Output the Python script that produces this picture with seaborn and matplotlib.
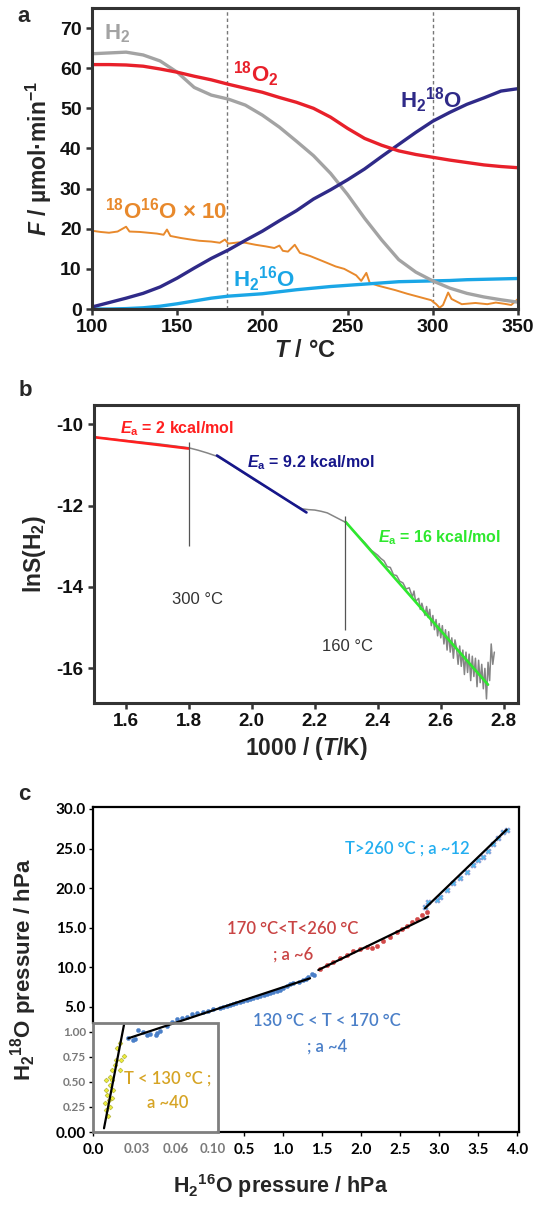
import numpy as np
import matplotlib
matplotlib.use("Agg")
import matplotlib.pyplot as plt
from matplotlib.patches import Rectangle
import seaborn as sns

# ---------------- panel a : flows vs temperature ----------------
t_grid = [100, 110, 120, 130, 140, 150, 160, 170, 180, 190, 200, 210, 220,
          230, 240, 250, 260, 270, 280, 290, 300, 310, 320, 330, 340, 350]
f_h2 = [63.6, 63.8, 64.0, 63.3, 61.8, 59.0, 55.2, 53.3, 52.3, 50.8, 48.3, 45.3, 41.8,
        38.2, 33.8, 28.5, 22.6, 17.2, 12.3, 9.2, 7.0, 5.2, 3.9, 3.0, 2.3, 1.7]
f_o2 = [60.9, 60.9, 60.8, 60.5, 59.8, 59.0, 58.0, 57.1, 56.0, 55.0, 54.0, 52.7, 51.5,
        50.0, 47.8, 45.0, 42.5, 40.8, 39.4, 38.5, 37.8, 37.1, 36.5, 35.9, 35.5, 35.2]
f_h2o18 = [0.5, 1.6, 2.7, 3.9, 5.5, 7.7, 10.2, 12.6, 14.7, 17.1, 19.4, 22.0, 24.5,
           27.4, 29.7, 32.2, 34.9, 38.0, 41.0, 44.0, 46.8, 49.0, 51.0, 52.6, 54.3, 54.9]
f_h2o16 = [0.0, 0.0, 0.1, 0.3, 0.7, 1.3, 2.0, 2.7, 3.2, 3.5, 3.8, 4.3, 4.8,
           5.2, 5.6, 5.9, 6.2, 6.5, 6.8, 6.9, 7.0, 7.1, 7.3, 7.4, 7.5, 7.6]
t_mixed = [100, 105, 110, 115, 120, 122, 128, 133, 138, 142, 144, 146, 152, 158, 163,
           170, 175, 178, 180, 186, 190, 196, 202, 207, 210, 212, 215, 219, 222, 228,
           235, 243, 248, 255, 258, 261, 263, 268, 278, 285, 292, 299, 302, 304, 306,
           309, 311, 317, 325, 332, 337, 342, 346, 350]
f_mixed = [19.5, 19.2, 19.0, 19.3, 20.5, 19.3, 19.2, 19.0, 18.8, 18.5, 19.8, 18.2, 17.7,
           17.3, 17.0, 16.8, 16.5, 17.3, 16.3, 16.6, 16.5, 16.0, 15.6, 15.2, 15.8, 14.5,
           14.3, 16.0, 14.0, 13.2, 12.0, 10.6, 10.0, 8.4, 7.0, 9.0, 6.5, 5.8, 4.7, 3.8,
           3.0, 2.2, 1.2, 0.3, 1.0, 4.1, 2.5, 1.2, 1.5, 1.2, 1.6, 1.3, 1.0, 2.5]
t_marks = [179, 300]

# ---------------- panel b : Arrhenius plot ----------------
inv_t = [1.50, 1.55, 1.60, 1.65, 1.70, 1.75, 1.80, 1.83, 1.86, 1.89, 1.92, 1.95, 1.98,
         2.01, 2.04, 2.07, 2.10, 2.13, 2.16, 2.18, 2.20, 2.22, 2.24, 2.26, 2.28, 2.30,
         2.32, 2.34, 2.36, 2.38, 2.40, 2.41, 2.42, 2.43, 2.44, 2.45, 2.46, 2.47, 2.48,
         2.49, 2.50, 2.51, 2.515, 2.52, 2.53, 2.535, 2.54, 2.55, 2.555, 2.56, 2.565,
         2.57, 2.575, 2.58, 2.585, 2.59, 2.595, 2.60, 2.605, 2.61, 2.615, 2.62, 2.625,
         2.63, 2.635, 2.64, 2.645, 2.65, 2.655, 2.66, 2.665, 2.67, 2.675, 2.68, 2.685,
         2.69, 2.695, 2.70, 2.705, 2.71, 2.715, 2.72, 2.725, 2.73, 2.735, 2.74, 2.745,
         2.75, 2.755, 2.76, 2.765, 2.77]
ln_s = [-10.32, -10.36, -10.40, -10.44, -10.48, -10.53, -10.58, -10.64, -10.71, -10.79,
        -10.93, -11.08, -11.23, -11.38, -11.52, -11.66, -11.81, -11.95, -12.08, -12.10,
        -12.11, -12.14, -12.18, -12.26, -12.34, -12.42, -12.60, -12.76, -12.92, -13.10,
        -13.22, -13.30, -13.36, -13.50, -13.52, -13.70, -13.72, -13.86, -13.90, -14.05,
        -14.02, -14.25, -14.10, -14.35, -14.28, -14.55, -14.40, -14.70, -14.48, -14.75,
        -14.55, -14.95, -14.70, -15.05, -14.80, -15.20, -14.90, -15.25, -14.95, -15.40,
        -15.05, -15.55, -15.10, -15.60, -15.25, -15.75, -15.30, -15.50, -15.90, -15.45,
        -15.95, -15.55, -16.15, -15.60, -16.10, -15.65, -16.30, -15.70, -16.20, -15.75,
        -16.45, -15.80, -16.35, -15.90, -16.50, -16.00, -16.75, -15.85, -16.30, -15.40,
        -15.90, -15.60]
fit2_x, fit2_y = [1.50, 1.80], [-10.32, -10.60]
fit9_x, fit9_y = [1.89, 2.174], [-10.77, -12.17]
fit16_x, fit16_y = [2.298, 2.75], [-12.40, -16.40]
mark_x = [1.80, 2.295]
mark_lo = [-13.0, -15.05]
mark_hi = [-10.43, -12.25]

# ---------------- panel c : H2(18)O vs H2(16)O pressure ----------------
p16_cold = [0.0182, 0.0166, 0.0209, 0.0193, 0.0159, 0.0148, 0.0130, 0.0182, 0.0114, 0.0091,
            0.0130, 0.0114, 0.0091, 0.0136, 0.0098, 0.0130, 0.0107, 0.0080, 0.0114, 0.0091,
            0.0102]
p18_cold = [0.887, 0.84, 0.76, 0.72, 0.72, 0.67, 0.62, 0.62, 0.553, 0.52,
            0.52, 0.47, 0.42, 0.42, 0.37, 0.337, 0.32, 0.287, 0.253, 0.22, 0.16]
p16_low = [0.0241, 0.0275, 0.0286, 0.031, 0.0348, 0.0377, 0.040, 0.0446, 0.0452, 0.0477,
           0.0528, 0.0567, 0.0608, 0.0662, 0.0716, 0.077, 0.0824, 0.0895, 0.0949, 0.104,
           0.19, 0.23, 0.276, 0.32, 0.36, 0.40, 0.446, 0.49, 0.531, 0.57, 0.617, 0.66,
           0.703, 0.75, 0.788, 0.83, 0.873, 0.92, 0.959, 1.00, 1.045, 1.09, 1.13, 1.20,
           1.258, 1.29, 1.32, 1.365, 1.40]
p18_low = [0.943, 0.92, 0.93, 1.32, 1.05, 0.97, 0.98, 0.97, 0.993, 1.16,
           1.96, 2.65, 3.03, 3.19, 3.45, 3.88, 3.99, 4.25, 4.41, 4.63,
           4.82, 4.95, 5.10, 5.22, 5.35, 5.47, 5.60, 5.72, 5.85, 5.98, 6.10, 6.22,
           6.35, 6.48, 6.60, 6.75, 6.90, 7.02, 7.18, 7.35, 7.70, 7.85, 8.05, 8.20,
           8.41, 8.50, 8.83, 9.13, 9.00]
p16_mid = [1.472, 1.558, 1.642, 1.728, 1.814, 1.899, 1.985, 2.07, 2.135, 2.199,
           2.283, 2.369, 2.455, 2.519, 2.583, 2.647, 2.712, 2.776, 2.84]
p18_mid = [9.80, 10.30, 10.72, 11.15, 11.57, 12.07, 12.32, 12.61, 12.49, 12.74,
           13.33, 13.88, 14.43, 14.85, 15.27, 15.69, 16.11, 16.62, 16.96]
p16_hot = [2.818, 2.86, 2.968, 3.01, 3.096, 3.181, 3.267, 3.353, 3.437, 3.501,
           3.565, 3.63, 3.694, 3.758, 3.822, 3.874]
p18_hot = [17.66, 18.22, 18.51, 18.93, 19.77, 20.62, 21.33, 22.08, 22.93, 23.56,
           23.98, 24.70, 25.54, 26.30, 27.06, 27.39]
fitc_x = [[0.0075, 0.0211], [0.0241, 1.344], [1.45, 2.86], [2.818, 3.865]]
fitc_y = [[0.037, 2.12], [0.937, 8.62], [9.67, 16.4], [17.46, 27.4]]
c_yticks = [0, 0.25, 0.5, 0.75, 1.0, 5, 10, 15, 20, 25, 30]
c_ylabels = ['0.00', '0.25', '0.50', '0.75', '1.00', '5.0', '10.0', '15.0', '20.0', '25.0', '30.0']
c_xticks = [0, 0.03, 0.06, 0.10, 0.5, 1.0, 1.5, 2.0, 2.5, 3.0, 3.5, 4.0]
c_xlabels = ['0.0', '0.03', '0.06', '0.10', '0.5', '1.0', '1.5', '2.0', '2.5', '3.0', '3.5', '4.0']

sns.set_theme(style="ticks")
plt.rcParams.update({
    "font.family": ["Liberation Sans", "DejaVu Sans"],
    "font.weight": "bold",
    "axes.labelweight": "bold",
    "axes.unicode_minus": False,
    "mathtext.fontset": "custom",
    "mathtext.default": "regular",
    "mathtext.rm": "Liberation Sans",
    "mathtext.bf": "Liberation Sans:bold",
    "mathtext.it": "Liberation Sans:italic:bold",
    "axes.edgecolor": "#333333",
    "axes.linewidth": 2.2,
})

W, H = 540, 1205
fig = plt.figure(figsize=(W / 100, H / 100), dpi=100)


def box(l, t, r, b):
    return [l / W, 1 - b / H, (r - l) / W, (b - t) / H]


def style_ticks(ax, size):
    ax.tick_params(direction="out", length=4.5, width=1.8, color="#333333",
                   labelsize=size, pad=3, labelcolor="#111111")
    for lbl in ax.get_xticklabels() + ax.get_yticklabels():
        lbl.set_fontweight("bold")


# ---- a ----
ax = fig.add_axes(box(92, 8, 518, 309))
for t in t_marks:
    ax.axvline(t, color="#777777", lw=1.0, ls=(0, (2.5, 2)), zorder=1)
sns.lineplot(x=t_mixed, y=f_mixed, color="#e8892c", lw=1.4, sort=False, ax=ax)
sns.lineplot(x=t_grid, y=f_h2o16, color="#1aa6e6", lw=2.4, ax=ax)
sns.lineplot(x=t_grid, y=f_h2, color="#a3a3a3", lw=2.4, ax=ax)
sns.lineplot(x=t_grid, y=f_h2o18, color="#2f2a88", lw=2.4, ax=ax)
sns.lineplot(x=t_grid, y=f_o2, color="#e8202a", lw=2.4, ax=ax)
ax.set_xlim(100, 350)
ax.set_ylim(0, 75)
ax.set_xticks(range(100, 351, 50))
ax.set_yticks(range(0, 71, 10))
style_ticks(ax, 14)
ax.set_xlabel(r"$\mathit{T}$ / °C", fontsize=17, labelpad=2)
ax.set_ylabel(r"$\mathit{F}$ / µmol·min$^{-1}$", fontsize=16.5, labelpad=4)
lab = dict(fontsize=16, fontweight="bold", va="center", ha="left")
ax.text(107, 68.5, "H$_2$", color="#a3a3a3", **lab)
ax.text(182.7, 58.4, "$^{18}$O$_2$", color="#e8202a", **lab)
ax.text(280.8, 52, "H$_2$$^{18}$O", color="#2f2a88", **lab)
ax.text(107.6, 24.5, "$^{18}$O$^{16}$O × 10", color="#e8892c", **lab)
ax.text(182.7, 7.5, "H$_2$$^{16}$O", color="#1aa6e6", **lab)

# ---- b ----
ax = fig.add_axes(box(94, 405, 518, 703))
sns.lineplot(x=inv_t, y=ln_s, color="#858585", lw=1.1, sort=False, ax=ax)
sns.lineplot(x=fit2_x, y=fit2_y, color="#ff1f1f", lw=1.9, ax=ax)
sns.lineplot(x=fit9_x, y=fit9_y, color="#16168a", lw=1.9, ax=ax)
sns.lineplot(x=fit16_x, y=fit16_y, color="#2ee82e", lw=1.9, ax=ax)
ax.vlines(mark_x, mark_lo, mark_hi, color="#555555", lw=0.9)
ax.set_xlim(1.5, 2.845)
ax.set_ylim(-16.85, -9.53)
ax.set_xticks([1.6, 1.8, 2.0, 2.2, 2.4, 2.6, 2.8])
ax.set_yticks([-10, -12, -14, -16])
style_ticks(ax, 13.5)
ax.set_xlabel(r"1000 / ($\mathit{T}$/K)", fontsize=16.5, labelpad=3)
ax.set_ylabel("lnS(H$_2$)", fontsize=16.5, labelpad=6)
ea = dict(fontsize=11.5, fontweight="bold", va="center", ha="left")
ax.text(1.581, -10.1, r"$\mathit{E}$$_a$ = 2 kcal/mol", color="#ff1f1f", **ea)
ax.text(1.984, -10.95, r"$\mathit{E}$$_a$ = 9.2 kcal/mol", color="#16168a", **ea)
ax.text(2.40, -12.8, r"$\mathit{E}$$_a$ = 16 kcal/mol", color="#2ee82e", **ea)
ax.text(1.827, -14.3, "300 °C", fontsize=12, fontweight="normal", color="#333333",
        ha="center", va="center")
ax.text(2.305, -15.47, "160 °C", fontsize=12, fontweight="normal", color="#333333",
        ha="center", va="center")

# ---- c (broken scale: inset range and main range on one axis) ----
ax = fig.add_axes(box(93, 807, 519, 1132))
xk = [-1.0, 0.0, 0.03, 0.06, 0.10, 5.0]
xd = [-1466.7, 0.0, 44.0, 83.0, 120.0, 120.0 + 4.9 * 78]
yk = [-1.0, 0.0, 1.0, 5.0, 40.0]
yd = [-100.0, 0.0, 100.0, 125.0, 125.0 + 35 * 7.92]
ax.set_xscale("function", functions=(lambda v: np.interp(v, xk, xd),
                                     lambda v: np.interp(v, xd, xk)))
ax.set_yscale("function", functions=(lambda v: np.interp(v, yk, yd),
                                     lambda v: np.interp(v, yd, yk)))
for fx, fy in zip(fitc_x, fitc_y):
    sns.lineplot(x=fx, y=fy, color="black", lw=1.6, ax=ax, zorder=4)
sns.scatterplot(x=p16_cold, y=p18_cold, marker="D", s=6, color="#eeee3a",
                edgecolor="#a8a830", linewidth=0.4, ax=ax, zorder=3)
sns.scatterplot(x=p16_low, y=p18_low, marker="o", s=9, color="#4a7fc8",
                edgecolor="#4a7fc8", linewidth=0.3, ax=ax, zorder=3)
sns.scatterplot(x=p16_mid, y=p18_mid, marker="o", s=10, color="#d24a4a",
                edgecolor="#d24a4a", linewidth=0.3, ax=ax, zorder=3)
sns.scatterplot(x=p16_hot, y=p18_hot, marker="X", s=16, color="#55bdf0",
                edgecolor="#8a7ac0", linewidth=0.3, ax=ax, zorder=3)
ax.set_xlim(0, 4.023)
ax.set_ylim(0, 30.25)
box_x, box_y = 0.164, 2.44
ax.add_patch(Rectangle((0, 0), box_x, box_y, fill=False, ec="#7f7f7f", lw=2.0,
                       clip_on=False, zorder=5))
for s in ax.spines.values():
    s.set_color("black")
    s.set_linewidth(1.6)
ax.spines["left"].set_bounds(box_y, 30.25)
ax.spines["bottom"].set_bounds(box_x, 4.023)
ax.set_xticks(c_xticks)
ax.set_xticklabels(c_xlabels)
ax.set_yticks(c_yticks)
ax.set_yticklabels(c_ylabels)
ax.tick_params(direction="out", length=3, width=1, color="black", pad=2)
ax.tick_params(axis="x", pad=5)
for i, tk in enumerate(ax.yaxis.get_major_ticks()):
    lbl = tk.label1
    lbl.set_fontfamily("Lato")
    lbl.set_fontweight("bold")
    if 1 <= i <= 4:
        lbl.set_fontsize(8.5)
        lbl.set_color("#7a7a7a")
        tk.tick1line.set_color("#7a7a7a")
    else:
        lbl.set_fontsize(11)
        lbl.set_color("black")
for i, tk in enumerate(ax.xaxis.get_major_ticks()):
    lbl = tk.label1
    lbl.set_fontfamily("Lato")
    lbl.set_fontweight("bold")
    if 1 <= i <= 3:
        lbl.set_fontsize(9.5)
        lbl.set_color("#7a7a7a")
        tk.tick1line.set_markersize(0)
    else:
        lbl.set_fontsize(11)
        lbl.set_color("black")

ann = dict(fontfamily="Lato", fontweight="semibold", fontsize=12, ha="center",
           va="center", transform=ax.transAxes)
ax.text(0.738, 0.871, "T>260 °C ; a ~12", color="#22aef0", **ann)
ax.text(0.469, 0.625, "170 °C<T<260 °C", color="#c94444", **ann)
ax.text(0.469, 0.545, "; a ~6", color="#c94444", **ann)
ax.text(0.549, 0.342, "130 °C < T < 170 °C", color="#4a7fc8", **ann)
ax.text(0.549, 0.263, "; a ~4", color="#4a7fc8", **ann)
ax.text(0.176, 0.163, "T < 130 °C ;", color="#d6a424", **ann)
ax.text(0.176, 0.089, "a ~40", color="#d6a424", **ann)

fig.text(24 / W, 1 - 970 / H, "H$_2$$^{18}$O pressure / hPa", rotation=90,
         fontsize=16, fontweight="bold", ha="center", va="center")
fig.text(281 / W, 1 - 1186 / H, "H$_2$$^{16}$O pressure / hPa",
         fontsize=15.5, fontweight="bold", ha="center", va="center")

for letter, (lx, ly) in zip("abc", [(24, 16), (25, 390), (24, 795)]):
    fig.text(lx / W, 1 - ly / H, letter, fontsize=16, fontweight="bold",
             ha="center", va="center")

fig.savefig("out.png", dpi=100)
